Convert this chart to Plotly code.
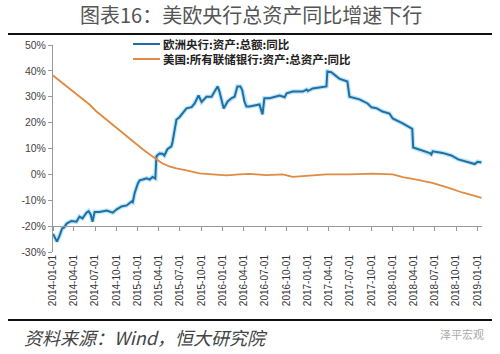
import plotly.graph_objects as go

# ---------------- data ----------------
ecb_dates = ["2014-01-01","2014-01-08","2014-01-18","2014-01-28","2014-02-09","2014-02-18","2014-03-01",
             "2014-03-21","2014-04-12","2014-04-25","2014-05-08","2014-05-25","2014-06-03","2014-06-12",
             "2014-06-20","2014-06-29","2014-07-20","2014-08-20","2014-09-15","2014-10-02","2014-10-23",
             "2014-11-14","2014-12-05","2014-12-10","2014-12-18","2015-01-01","2015-01-09","2015-01-22",
             "2015-02-08","2015-02-21","2015-03-05","2015-03-17","2015-03-22","2015-04-04","2015-04-17",
             "2015-04-25","2015-05-08","2015-05-25","2015-05-29","2015-06-16","2015-06-28","2015-07-11",
             "2015-07-29","2015-08-20","2015-09-02","2015-09-19","2015-10-02","2015-10-23","2015-11-14",
             "2015-11-27","2015-12-10","2015-12-18","2016-01-01","2016-01-05","2016-01-22","2016-02-08",
             "2016-02-21","2016-03-04","2016-03-17","2016-03-25","2016-04-03","2016-04-12","2016-04-25",
             "2016-06-07","2016-06-20","2016-06-28","2016-07-20","2016-09-02","2016-09-23","2016-10-02",
             "2016-10-28","2016-12-10","2016-12-27","2017-01-01","2017-01-22","2017-03-22","2017-03-26",
             "2017-04-12","2017-05-16","2017-06-20","2017-06-29","2017-08-11","2017-09-15","2017-10-02",
             "2017-10-23","2017-11-18","2017-12-18","2018-01-01","2018-02-13","2018-03-13","2018-03-26",
             "2018-03-30","2018-05-08","2018-06-10","2018-06-16","2018-06-22","2018-08-03","2018-09-10",
             "2018-10-10","2018-11-15","2018-12-20","2019-01-01","2019-01-18"]
ecb_yoy = [-23,-24.5,-26,-24,-21,-20.5,-19,
           -18,-18.3,-16.3,-17,-14.8,-14.2,-15.5,
           -18.3,-14.5,-14.5,-14,-14.8,-13.5,-12.4,
           -12,-10.5,-10.8,-7.3,-3.5,-2.3,-2,
           -1.5,-2,-1,-1.6,7,8.1,8,
           7.3,9.7,10.8,12,21.2,22,23.5,
           25.5,26,27.4,30.5,28,30,30,
           32,34,32,26.2,25.5,28.2,29.5,
           30,34,34,32.5,28.2,26.2,26.2,
           27,23.2,29.4,29.4,30.5,29.8,31.3,
           32,32,32.8,32.2,33.2,34,39.8,
           39.5,37,35.9,30,29,27.4,25.9,
           25.6,24.3,23.5,21.6,19.7,18.1,17.6,
           10.4,9.2,8.2,7.7,8.9,8.3,7.3,
           5.8,5.0,4.0,4.9,4.6]

fed_dates = ["2014-01-01","2014-01-22","2014-02-13","2014-03-13","2014-04-12","2014-05-08","2014-06-07",
             "2014-07-07","2014-08-02","2014-09-02","2014-10-02","2014-10-27","2014-11-27","2014-12-27",
             "2015-01-22","2015-02-21","2015-03-22","2015-04-17","2015-05-16","2015-06-16","2015-07-29",
             "2015-09-23","2015-11-18","2016-01-18","2016-03-13","2016-04-25","2016-07-07","2016-09-15",
             "2016-10-28","2017-01-09","2017-03-22","2017-06-29","2017-10-06","2018-01-01","2018-02-13",
             "2018-04-13","2018-06-20","2018-09-02","2018-10-27","2018-12-27","2019-01-18"]
fed_yoy = [38.2,36.7,35.1,32.8,30.9,29,27,
           24.3,22.4,20.1,17.8,15.8,13.5,11.6,
           9.7,7.7,5.8,4.2,3.1,2.3,1.5,
           0.4,0,-0.4,0,0.2,-0.3,0,
           -1,-0.6,0,0,0.3,0,-1.1,
           -2,-3.3,-5.3,-7,-8.5,-9.1]

tick_dates = ["2014-01-01","2014-04-01","2014-07-01","2014-10-01","2015-01-01","2015-04-01","2015-07-01",
              "2015-10-01","2016-01-01","2016-04-01","2016-07-01","2016-10-01","2017-01-01","2017-04-01",
              "2017-07-01","2017-10-01","2018-01-01","2018-04-01","2018-07-01","2018-10-01","2019-01-01"]
y_ticks = [-30, -20, -10, 0, 10, 20, 30, 40, 50]
y_tick_labels = ["-30%", "-20%", "-10%", "0%", "10%", "20%", "30%", "40%", "50%"]

name_ecb = "欧洲央行:资产:总额:同比"
name_fed = "美国:所有联储银行:资产:总资产:同比"
title_text = "图表16：美欧央行总资产同比增速下行"
source_text = "资料来源：Wind，恒大研究院"
watermark = "泽平宏观"

BLUE = "#1f6ea6"
ORANGE = "#e08a42"

# ---------------- layout helpers ----------------
W, H = 500, 354
L, R, T, B = 53, 18, 45, 102
PW = W - L - R
PH = H - T - B
def pxx(x): return (x - L) / PW
def pxy(y): return (H - B - y) / PH

CJK = "Noto Sans CJK SC"
SANS = "Liberation Sans, Arial, sans-serif"

fig = go.Figure()
fig.add_trace(go.Scatter(x=ecb_dates, y=ecb_yoy, mode="lines", xaxis="x", yaxis="y",
                         line=dict(color="rgba(110,200,235,0.45)", width=4.5),
                         hoverinfo="skip", showlegend=False))
fig.add_trace(go.Scatter(x=ecb_dates, y=ecb_yoy, mode="lines", name=name_ecb, xaxis="x", yaxis="y",
                         line=dict(color=BLUE, width=2), showlegend=False))
fig.add_trace(go.Scatter(x=fed_dates, y=fed_yoy, mode="lines", name=name_fed, xaxis="x2", yaxis="y",
                         line=dict(color=ORANGE, width=1.8), showlegend=False))

LEG_FONT = 11.5
LEG_GAP = LEG_FONT * 1.3
LEG_MID = 51.5
LEG1, LEG2 = LEG_MID - LEG_GAP / 2, LEG_MID + LEG_GAP / 2
shapes = [
    dict(type="line", xref="paper", yref="paper", x0=pxx(8), x1=pxx(492), y0=pxy(34), y1=pxy(34),
         line=dict(color="#111", width=2.2)),
    dict(type="line", xref="paper", yref="paper", x0=pxx(8), x1=pxx(492), y0=pxy(320), y1=pxy(320),
         line=dict(color="#111", width=2.2)),
    dict(type="line", xref="paper", yref="paper", x0=pxx(133), x1=pxx(160), y0=pxy(LEG1), y1=pxy(LEG1),
         line=dict(color=BLUE, width=2)),
    dict(type="line", xref="paper", yref="paper", x0=pxx(133), x1=pxx(160), y0=pxy(LEG2), y1=pxy(LEG2),
         line=dict(color=ORANGE, width=2)),
]

annotations = [
    dict(text=title_text, xref="paper", yref="paper", x=pxx(251), y=pxy(14), showarrow=False,
         xanchor="center", yanchor="middle", font=dict(family=CJK, size=20, color="#555")),
    dict(text="<b>" + name_ecb + "</b><br><b>" + name_fed + "</b>", xref="paper", yref="paper",
         x=pxx(162), y=pxy(LEG_MID), showarrow=False, align="left", borderpad=0,
         xanchor="left", yanchor="middle", font=dict(family=CJK, size=LEG_FONT, color="#222")),
    dict(text="<i>" + source_text + "</i>", xref="paper", yref="paper", x=pxx(22), y=pxy(337), showarrow=False,
         xanchor="left", yanchor="middle", font=dict(family=CJK, size=18, color="#444")),
    dict(text=watermark, xref="paper", yref="paper", x=pxx(486), y=pxy(334), showarrow=False,
         xanchor="right", yanchor="middle", font=dict(family=CJK, size=11, color="#aaa")),
]

fig.update_layout(
    width=W, height=H,
    margin=dict(l=L, r=R, t=T, b=B, pad=0),
    paper_bgcolor="white", plot_bgcolor="white",
    showlegend=False,
    shapes=shapes, annotations=annotations,
    xaxis=dict(type="date", range=["2014-01-01", "2019-01-20"], domain=[0, 1],
               tickmode="array", tickvals=tick_dates, tickformat="%Y-%m-%d", tickangle=-90,
               showline=False, ticks="", showgrid=False, zeroline=False,
               tickfont=dict(family=SANS, size=10, color="#333")),
    xaxis2=dict(type="date", overlaying="x", matches="x", anchor="free", position=0.125, side="bottom",
                tickmode="array", tickvals=tick_dates, showticklabels=False,
                showline=True, linecolor="#999", linewidth=1, ticks="outside", ticklen=4, tickcolor="#999",
                showgrid=False, zeroline=False),
    yaxis=dict(range=[-30, 50], domain=[0, 1], tickmode="array", tickvals=y_ticks, ticktext=y_tick_labels,
               showline=True, linecolor="#999", linewidth=1, ticks="outside", ticklen=4, tickcolor="#999",
               showgrid=False, zeroline=False,
               tickfont=dict(family=SANS, size=10.5, color="#444")),
)

fig.write_html("out.html")
